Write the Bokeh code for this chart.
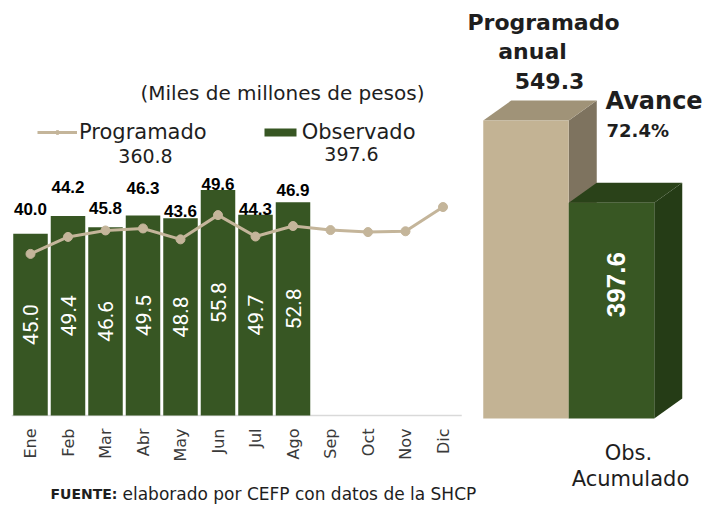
import math
from bokeh.plotting import figure
from bokeh.models import (Range1d, LinearAxis, FixedTicker, Label, Legend,
                          LegendItem, ColumnDataSource)
from bokeh.core.properties import value
from bokeh.embed import file_html
from bokeh.resources import INLINE

# ---------------- data ----------------
months = ["Ene", "Feb", "Mar", "Abr", "May", "Jun", "Jul", "Ago", "Sep", "Oct", "Nov", "Dic"]
programado = [40.0, 44.2, 45.8, 46.3, 43.6, 49.6, 44.3, 46.9, 45.9, 45.4, 45.6, 51.6]
observado = [45.0, 49.4, 46.6, 49.5, 48.8, 55.8, 49.7, 52.8]
prog_acum = 360.8
obs_acum = 397.6
acum_cats = ["Programado anual", "Obs. Acumulado"]
acum_vals = [549.3, 397.6]
avance = 72.4

# ---------------- styles / geometry ----------------
GREEN = "#375623"
TAN = "#C4B59A"
PROG_FRONT, PROG_TOP, PROG_SIDE = "#C3B394", "#A09378", "#7E735F"
OBS_FRONT, OBS_TOP, OBS_SIDE = "#385723", "#2A4219", "#253C16"
TXT = "#1E1E1E"

W, H = 706, 504
MONTH_PX, X0_PX = 37.5, 30.0       # px per month, x of first month
Y_PX, BASE_PX = 4.04, 415.0        # px per unit, zero line from top
ACUM_PX, AX0_PX = 85.5, 525.5      # cumulative bars
AY_PX, ABASE_PX = 0.5425, 418.0

p = figure(width=W, height=H, output_backend="svg", toolbar_location=None,
           x_range=Range1d(-X0_PX / MONTH_PX, (W - X0_PX) / MONTH_PX),
           y_range=Range1d(-(H - BASE_PX) / Y_PX, BASE_PX / Y_PX),
           x_axis_location=None, y_axis_location=None,
           min_border_left=0, min_border_right=0, min_border_top=0,
           min_border_bottom=0, outline_line_color=None)
p.grid.grid_line_color = None
p.extra_x_ranges = {"acum": Range1d(-AX0_PX / ACUM_PX, (W - AX0_PX) / ACUM_PX)}
p.extra_y_ranges = {"acum": Range1d(-(H - ABASE_PX) / AY_PX, ABASE_PX / AY_PX)}

xaxis = LinearAxis(ticker=FixedTicker(ticks=list(range(len(months)))),
                   major_label_overrides={i: m for i, m in enumerate(months)},
                   major_label_orientation=math.pi / 2, fixed_location=0,
                   axis_line_color=None, major_tick_line_color=None,
                   minor_tick_line_color=None, major_tick_in=0, major_tick_out=0,
                   major_label_standoff=13,
                   major_label_text_font="DejaVu Sans",
                   major_label_text_font_size="16px",
                   major_label_text_color="#3A3A3A")
p.add_layout(xaxis, "below")


def px_x(page_x):
    return (page_x - X0_PX) / MONTH_PX


def px_y(page_y):
    return (BASE_PX - page_y) / Y_PX


def add_label(text, page_x, page_y, size, bold=False, color=TXT, align="center",
              font="DejaVu Sans", angle=0.0):
    p.add_layout(Label(x=px_x(page_x), y=px_y(page_y), text=text,
                       text_align=align, text_baseline="middle",
                       text_font=font, text_font_size=size,
                       text_font_style="bold" if bold else "normal",
                       text_color=color, angle=angle))


# baseline
p.segment(x0=-0.5, y0=0, x1=len(months) - 0.5, y1=0, line_color="#D9D9D9", line_width=1.5)

# monthly bars
src = ColumnDataSource(dict(x=list(range(len(observado))), top=observado,
                            mid=[v / 2 for v in observado],
                            lab=[f"{v:.1f}" for v in observado]))
bars = p.vbar(x="x", top="top", bottom=0, width=0.92, fill_color=GREEN,
              line_color=None, source=src)
p.text(x="x", y="mid", text="lab", angle=math.pi / 2, text_align="center",
       text_baseline="middle", text_color="white", text_font=value("Roboto"),
       text_font_size="21px", source=src)

# programado line
lsrc = ColumnDataSource(dict(x=list(range(len(months))), y=programado))
ln = p.line(x="x", y="y", line_color=TAN, line_width=3, source=lsrc)
mk = p.scatter(x="x", y="y", size=9, fill_color=TAN, line_color=TAN, source=lsrc)

# programado value labels above bars
lift = [25, 29, 19, 28, 7, 6, 6, 12]
tsrc = ColumnDataSource(dict(x=list(range(len(observado))), y=observado,
                             t=[f"{v:.1f}" for v in programado[:len(observado)]],
                             off=[-d for d in lift]))
p.text(x="x", y="y", text="t", y_offset="off", text_align="center",
       text_baseline="middle", text_color="black",
       text_font=value("Liberation Sans"), text_font_style="bold",
       text_font_size="17px", source=tsrc)

# legend
legend = Legend(items=[LegendItem(label="Programado", renderers=[ln, mk]),
                       LegendItem(label="Observado", renderers=[bars])],
                orientation="horizontal", location=(37, 360), padding=0, margin=0,
                spacing=53, glyph_width=40, glyph_height=10, label_standoff=2,
                border_line_color=None, background_fill_alpha=0,
                label_text_font="DejaVu Sans", label_text_font_size="21px",
                label_text_color=TXT)
p.add_layout(legend)

add_label("(Miles de millones de pesos)", 282, 92, "20px")
add_label(f"{prog_acum:.1f}", 145, 155, "19px")
add_label(f"{obs_acum:.1f}", 351, 153, "19px")

# cumulative 3D bars
DX = 28 / ACUM_PX
DY = 20 / AY_PX
faces = [(PROG_FRONT, PROG_TOP, PROG_SIDE), (OBS_FRONT, OBS_TOP, OBS_SIDE)]
for i, v in enumerate(acum_vals):
    front, top, side = faces[i]
    l, r = i - 0.5, i + 0.5
    p.patch(x=[r, r + DX, r + DX, r], y=[0, DY, v + DY, v], fill_color=side,
            line_color=None, x_range_name="acum", y_range_name="acum")
    p.patch(x=[l, r, r + DX, l + DX], y=[v, v, v + DY, v + DY], fill_color=top,
            line_color=None, x_range_name="acum", y_range_name="acum")
    p.vbar(x=[i], top=[v], bottom=0, width=1.0, fill_color=front, line_color=None,
           x_range_name="acum", y_range_name="acum")

p.text(x=[1], y=[acum_vals[1] / 2], text=[f"{acum_vals[1]:.1f}"], x_offset=4,
       y_offset=-26, angle=math.pi / 2, text_align="center", text_baseline="middle",
       text_color="white", text_font=value("Liberation Sans"), text_font_style="bold",
       text_font_size="26px", x_range_name="acum", y_range_name="acum")

add_label("Programado", 543, 22, "22px", bold=True)
add_label("anual", 532, 51, "22px", bold=True)
add_label(f"{acum_vals[0]:.1f}", 549, 80, "22px", bold=True)
add_label("Avance", 605, 100, "24px", bold=True, align="left")
add_label(f"{avance:.1f}%", 606, 130, "18px", bold=True, align="left")
add_label("Obs.", 628, 452, "21px")
add_label("Acumulado", 630, 478, "21px")

add_label("FUENTE:", 50, 493, "14px", bold=True, align="left")
add_label("elaborado por CEFP con datos de la SHCP", 122, 493, "17px", align="left")

open("out.html", "w").write(file_html(p, INLINE))
